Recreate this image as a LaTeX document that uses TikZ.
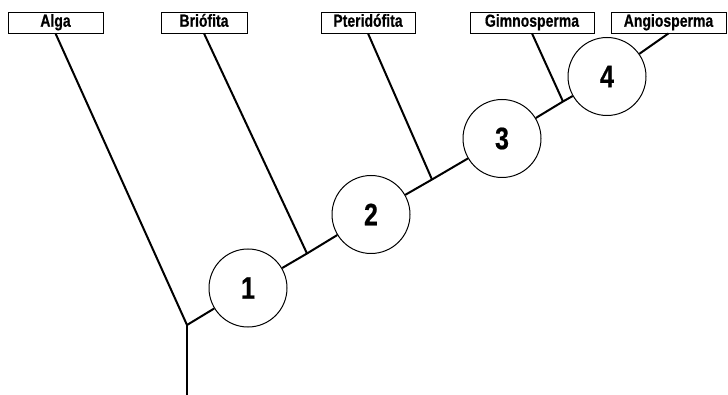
\documentclass[tikz,border=0pt]{standalone}
\usepackage{fontspec}
\setmainfont[FakeStretch=0.8]{Liberation Sans}
\newfontfamily\heavyfont[FakeStretch=0.8, BoldFeatures={FakeBold=0.6}]{Liberation Sans}
\usetikzlibrary{positioning}
\tikzstyle{taxNode} = [rectangle, draw=black, line width=0.8pt, inner xsep=2pt, inner ysep=0pt, minimum height=21pt, text height=12.5pt, text depth=4pt, font=\heavyfont\fontsize{17.5pt}{19pt}\selectfont\bfseries]
\tikzstyle{stepNode} = [circle, draw=black, line width=1pt, minimum size=78pt, inner sep=0pt, fill=white, font=\heavyfont\fontsize{31pt}{33pt}\selectfont\bfseries]
\tikzstyle{branch} = [line width=2pt, draw=black]

\begin{document}
\begin{tikzpicture}[x=1pt, y=-1pt]
        \useasboundingbox (0,0) rectangle (728,395);
        \node (alga) [taxNode, minimum width=95pt] at (55.5,22.5) {Alga};
        \node (brio) [taxNode, minimum width=86pt] at (204,22.5) {Briófita};
        \node (pter) [taxNode, minimum width=94pt] at (368,22.5) {Pteridófita};
        \node (gimn) [taxNode, minimum width=124pt] at (532,22.5) {Gimnosperma};
        \node (angi) [taxNode, minimum width=115pt] at (668.5,22.5) {Angiosperma};

        \coordinate (root) at (187,325);
        \coordinate (base) at (187,395);
        \coordinate (j1) at (307,253.5);
        \coordinate (j2) at (432,179.5);
        \coordinate (j3) at (563,101.5);

        \node (n1) [stepNode] at (248,288) {1};
        \node (n2) [stepNode] at (371,214.5) {2};
        \node (n3) [stepNode] at (502,138.5) {3};
        \node (n4) [stepNode] at (607,76.5) {4};

        \draw [branch] (base) -- (root);
        \draw [branch] (root) -- (alga.south);
        \draw [branch] (root) -- (n1);
        \draw [branch] (n1) -- (j1) -- (n2);
        \draw [branch] (j1) -- (brio.south);
        \draw [branch] (n2) -- (j2) -- (n3);
        \draw [branch] (j2) -- (pter.south);
        \draw [branch] (n3) -- (j3) -- (n4);
        \draw [branch] (j3) -- (gimn.south);
        \draw [branch] (n4) -- (angi.south);
    \end{tikzpicture}
\end{document}
